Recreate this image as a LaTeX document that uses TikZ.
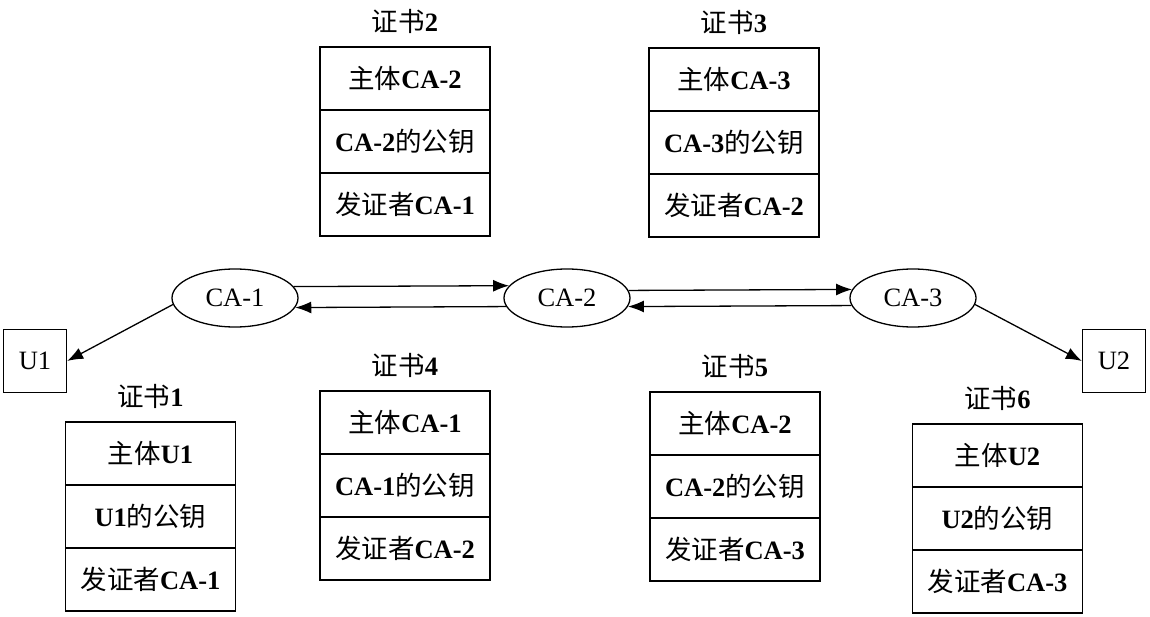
\documentclass[tikz,border=0pt]{standalone}
\usepackage{fontspec}
\setmainfont{Liberation Serif}
\newfontfamily\cjk{Noto Sans CJK SC}
\usetikzlibrary{arrows.meta,shapes.geometric}
\newcommand\zh[1]{{\cjk #1}}
\newcommand\certbox[7]{%
  \node[celltitle] (#1t) at (#2,#3-26) {#4};
  \node[cell, anchor=north] (#1a) at (#2,#3) {#5};
  \node[cell, anchor=north] (#1b) at (#1a.south) {#6};
  \node[cell, anchor=north] (#1c) at (#1b.south) {#7};
}
\tikzset{
  base/.style={line width=1.3pt, font=\fontsize{26.5}{29}\selectfont},
  cell/.style={base, draw, minimum width=170pt, minimum height=63pt, inner sep=0pt, outer sep=0pt},
  celltitle/.style={base, inner sep=0pt},
  caell/.style={base, draw, ellipse, minimum width=126pt, minimum height=58pt, inner sep=0pt},
  ubox/.style={base, draw, minimum width=63pt, minimum height=63pt, inner sep=0pt},
  arr/.style={line width=1.3pt, -{Latex[length=16pt,width=12pt]}}
}
\begin{document}
\begin{tikzpicture}[x=1pt,y=-1pt]
\useasboundingbox (0,0) rectangle (1150,617);
% ellipses
\node[caell] (ca1) at (235,298) {CA-1};
\node[caell] (ca2) at (567,298) {CA-2};
\node[caell] (ca3) at (913,298) {CA-3};
% users
\node[ubox] (u1) at (35,361) {U1};
\node[ubox] (u2) at (1114,361) {U2};
% arrows
\draw[arr] (ca1.11.8) -- (ca2.168.2);
\draw[arr] (ca2.188.55) -- (ca1.351.45);
\draw[arr] (ca2.7.52) -- (ca3.172.48);
\draw[arr] (ca3.187.52) -- (ca2.352.48);
\draw[arr] (ca1.186) -- (u1.east);
\draw[arr] (ca3.354) -- (u2.west);
% certificates
\certbox{c1}{150.5}{422}{\zh{证书}\textbf{1}}{\zh{主体}\textbf{U1}}{\textbf{U1}\zh{的公钥}}{\zh{发证者}\textbf{CA-1}}
\certbox{c2}{405}{47}{\zh{证书}\textbf{2}}{\zh{主体}\textbf{CA-2}}{\textbf{CA-2}\zh{的公钥}}{\zh{发证者}\textbf{CA-1}}
\certbox{c3}{734}{48}{\zh{证书}\textbf{3}}{\zh{主体}\textbf{CA-3}}{\textbf{CA-3}\zh{的公钥}}{\zh{发证者}\textbf{CA-2}}
\certbox{c4}{405}{391}{\zh{证书}\textbf{4}}{\zh{主体}\textbf{CA-1}}{\textbf{CA-1}\zh{的公钥}}{\zh{发证者}\textbf{CA-2}}
\certbox{c5}{735}{392}{\zh{证书}\textbf{5}}{\zh{主体}\textbf{CA-2}}{\textbf{CA-2}\zh{的公钥}}{\zh{发证者}\textbf{CA-3}}
\certbox{c6}{997.5}{424}{\zh{证书}\textbf{6}}{\zh{主体}\textbf{U2}}{\textbf{U2}\zh{的公钥}}{\zh{发证者}\textbf{CA-3}}
\end{tikzpicture}
\end{document}
